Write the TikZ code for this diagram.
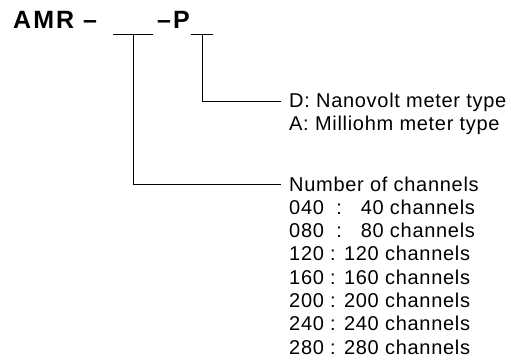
\documentclass[tikz,border=0pt]{standalone}
\usepackage{fontspec}
\newfontfamily\wide[LetterSpace=3.5]{Liberation Sans}
\newfontfamily\widebf[LetterSpace=8]{Liberation Sans Bold}
\begin{document}
\begin{tikzpicture}[x=1pt,y=1pt,
  txt/.style={anchor=base west, inner sep=0pt, font=\wide\fontsize{20}{23}\selectfont},
  code/.style={anchor=base west, inner sep=0pt, font=\widebf\fontsize{25}{28}\selectfont},
  wire/.style={line width=0.9pt}]
\useasboundingbox (0,0) rectangle (511,362);
% model code
\node[code] (amr) at (13,333) {AMR –};
\node[code] (p) at (157,333) {–P};
% blank slots
\coordinate (s1a) at (113,328);
\coordinate (s1b) at (153,328);
\coordinate (s1) at (133,328);
\coordinate (s2a) at (191,328);
\coordinate (s2b) at (213,328);
\coordinate (s2) at (202,328);
% descriptions
\node[txt] (t1) at (289,254) {D: Nanovolt meter type};
\node[txt] (t2) at (289,231) {A: Milliohm meter type};
\node[txt] (c0) at (289,171) {Number of channels};
\node[txt] (c1) at (289,147.7) {040\ \ :\ \ \ 40 channels};
\node[txt] (c2) at (289,124.4) {080\ \ :\ \ \ 80 channels};
\node[txt] (c3) at (289,101.1) {120 : 120 channels};
\node[txt] (c4) at (289,77.8) {160 : 160 channels};
\node[txt] (c5) at (289,54.5) {200 : 200 channels};
\node[txt] (c6) at (289,31.2) {240 : 240 channels};
\node[txt] (c7) at (289,7.9) {280 : 280 channels};
% connector ends
\coordinate (k2) at ([xshift=-8pt,yshift=7pt]t1.base west);
\coordinate (k1) at ([xshift=-8pt,yshift=7pt]c0.base west);
% connectors
\draw[wire] (s1a) -- (s1b);
\draw[wire] (s2a) -- (s2b);
\draw[wire] (s1) |- (k1);
\draw[wire] (s2) |- (k2);
\end{tikzpicture}
\end{document}
